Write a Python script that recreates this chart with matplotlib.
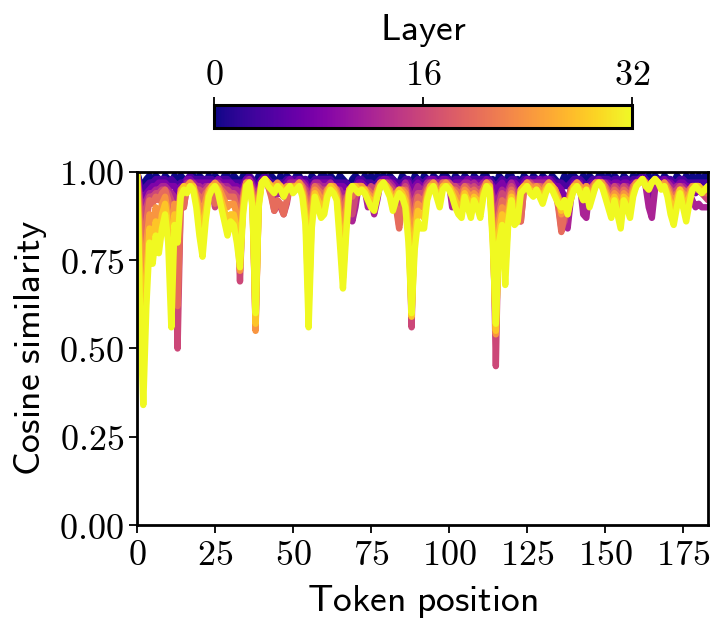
import matplotlib
matplotlib.use("Agg")
import matplotlib.pyplot as plt
import numpy as np
from matplotlib.ticker import FuncFormatter

plt.rcParams['mathtext.fontset'] = 'cm'

# cosine similarity per token position (x 100), some layers
layers = [0, 4, 8, 12, 16, 20, 24, 28, 32]
raw = {
    0: """100 97 96 98 99 97 99 98 97 99 98 97 99 97 99 98 97 99 99 97
          99 98 97 99 97 99 98 97 99 99 97 99 98 97 99 99 98 97 97 99
          99 98 97 99 98 97 99 97 99 98 97 99 99 97 98 97 99 98 97 99
          99 97 99 98 97 99 98 97 96 98 99 98 97 99 97 99 97 99 98 99
          97 99 98 97 97 99 98 97 96 99 98 97 99 98 97 99 98 97 99 99
          98 97 99 98 97 99 98 97 99 98 97 99 99 97 98 96 99 98 97 99
          99 97 98 97 99 98 97 99 98 97 99 98 97 99 98 97 97 99 97 99
          99 98 97 99 97 99 98 97 99 99 97 99 97 99 98 97 99 98 97 99
          98 99 99 97 99 97 99 98 97 99 98 97 97 99 98 97 99 97 99 97
          99 97 99 98""",
    4: """100 96 95 96 97 97 98 98 98 98 97 98 97 96 97 97 98 99 98 98
          98 98 98 98 98 97 98 98 98 98 97 97 97 97 97 98 99 98 96 97
          98 99 98 97 97 97 97 97 98 98 98 98 98 98 98 97 97 98 98 98
          98 98 98 97 97 97 97 97 96 96 96 98 98 97 97 97 96 97 98 98
          98 98 98 97 97 97 98 98 96 97 98 97 97 98 98 98 98 98 98 98
          98 97 98 98 98 98 98 98 98 98 98 98 98 98 97 95 97 98 97 97
          98 98 97 97 98 98 98 98 98 98 98 98 98 98 97 97 97 96 96 97
          98 98 98 97 96 97 98 98 98 98 98 98 97 98 98 97 98 98 97 98
          98 98 99 98 97 96 97 98 98 98 98 98 97 97 98 98 97 97 97 97
          97 97 97 97""",
    8: """100 93 92 94 95 96 96 97 97 97 96 96 96 94 96 95 98 98 97 97
          97 97 97 97 97 96 98 97 97 97 97 96 96 95 96 98 98 97 93 96
          98 98 97 96 96 96 96 96 97 98 97 97 98 97 97 95 96 97 97 97
          97 97 97 96 96 96 96 95 93 92 94 97 97 96 94 95 93 95 97 98
          98 97 97 96 95 96 97 97 92 96 97 96 96 97 98 98 97 97 98 98
          97 94 97 97 97 97 98 97 97 97 97 97 98 97 96 90 96 97 95 96
          97 97 96 95 97 98 97 97 97 98 97 98 98 97 96 96 95 93 92 95
          97 97 97 94 93 96 97 97 98 97 97 97 96 97 97 96 97 97 96 97
          97 98 98 97 94 92 96 97 97 98 97 97 96 96 97 97 96 96 95 94
          95 94 94 94""",
    12: """100 92 90 92 94 94 95 95 96 96 95 94 93 88 94 92 97 97 97 96
          96 95 96 96 96 94 97 96 96 96 95 95 95 90 95 97 98 96 85 95
          97 98 97 95 93 94 94 93 95 97 97 97 97 97 96 90 95 97 97 96
          96 96 97 95 95 95 93 94 89 86 90 96 96 95 90 92 88 92 97 97
          97 97 96 94 91 94 97 95 80 94 96 95 95 97 97 97 97 97 97 97
          97 90 96 96 96 97 97 96 97 96 96 97 97 97 93 75 93 95 90 95
          97 95 94 92 96 97 97 97 97 97 97 97 97 96 95 93 90 86 84 92
          96 97 96 88 87 95 96 97 97 97 97 96 95 96 96 95 96 96 95 96
          97 97 98 96 90 87 95 97 96 97 97 96 95 96 96 96 95 94 92 90
          91 90 90 90""",
    16: """100 90 85 90 93 93 94 94 95 95 94 92 88 50 92 90 96 97 96 95
          95 94 95 96 95 90 96 96 95 95 94 94 93 69 94 97 97 95 70 94
          97 98 96 94 89 91 90 88 91 96 96 96 97 96 95 82 94 96 96 95
          95 95 96 94 95 93 88 93 91 88 93 96 96 95 93 96 95 96 97 97
          97 96 95 92 85 92 96 93 56 92 94 94 94 96 97 97 96 96 97 97
          97 96 96 95 95 96 96 95 96 95 95 96 97 97 90 45 91 94 85 94
          96 94 92 86 95 97 97 96 96 96 96 96 97 96 95 91 84 86 91 95
          96 97 96 93 96 95 96 97 97 97 96 95 94 96 95 94 96 95 94 96
          97 97 98 97 95 97 98 97 96 97 96 95 94 95 96 95 94 95 96 95
          95 94 93 92""",
    20: """100 85 75 86 92 91 93 92 94 95 92 88 80 62 90 90 96 97 96 94
          93 92 94 95 95 91 96 95 94 93 93 93 90 78 93 97 97 94 56 93
          97 98 96 93 89 92 91 88 92 96 96 96 97 96 93 72 92 96 95 94
          94 95 96 96 95 91 80 92 94 93 95 96 96 95 95 94 93 95 97 97
          96 95 93 90 84 90 95 91 62 89 93 92 92 95 96 97 96 95 97 97
          96 95 95 94 94 96 95 94 95 94 94 95 97 96 86 56 88 92 80 92
          95 92 90 86 95 97 96 96 96 96 95 96 97 96 95 90 83 88 90 95
          96 97 96 95 96 94 96 97 97 97 96 94 93 95 94 93 95 94 93 96
          97 97 98 97 96 97 98 97 96 97 96 94 93 94 95 95 93 95 96 96
          96 95 94 94""",
    24: """100 78 60 80 88 85 90 86 91 93 88 78 91 86 95 96 96 97 96 93
          90 88 92 95 96 97 96 94 92 90 91 91 88 72 92 97 97 93 55 92
          97 98 97 96 96 97 96 95 96 96 96 96 97 95 91 68 90 95 94 92
          92 95 96 96 94 88 76 89 95 96 96 96 96 95 94 93 92 95 97 97
          96 95 92 94 95 95 94 88 60 86 91 90 90 94 96 97 95 94 96 97
          96 95 94 92 92 95 94 92 94 93 92 95 97 96 84 54 86 90 76 90
          94 90 90 95 96 97 96 95 96 95 94 96 97 96 95 93 88 91 88 94
          96 97 96 94 96 93 95 97 97 97 95 93 92 94 93 91 94 93 92 95
          97 97 98 97 96 97 98 97 96 97 95 93 92 93 95 94 91 94 96 96
          96 95 95 95""",
    28: """100 70 45 70 84 79 86 81 88 91 85 65 88 84 94 96 95 96 96 92
          86 82 89 94 96 96 95 92 89 86 88 88 84 76 90 96 97 91 57 91
          97 98 97 96 95 96 96 94 95 96 95 96 96 94 88 62 87 94 92 90
          90 94 96 95 93 84 70 85 95 96 96 95 95 95 93 92 91 94 96 97
          96 94 91 93 95 94 92 84 59 82 89 88 87 93 96 96 94 92 96 96
          96 94 92 90 90 94 92 90 93 92 90 94 96 96 82 55 83 88 72 88
          93 88 88 95 96 96 95 94 95 94 93 95 96 96 94 92 89 92 89 93
          96 96 95 93 95 92 94 96 97 96 94 92 90 93 91 88 93 92 90 94
          96 97 98 96 96 97 98 97 96 96 94 91 89 92 95 92 89 93 95 96
          96 95 95 96""",
    32: """100 60 34 62 80 74 82 77 84 88 80 56 85 80 93 95 94 96 95 90
          82 76 86 93 95 96 94 90 86 82 86 85 80 73 88 96 97 90 60 90
          97 98 96 95 94 96 95 93 95 96 94 95 96 93 85 56 84 93 90 87
          88 93 95 94 92 80 67 82 94 96 95 94 95 94 92 90 89 93 96 97
          95 93 89 92 94 93 90 80 60 78 86 84 84 92 95 96 93 90 95 96
          95 93 90 88 87 93 90 87 92 90 87 93 96 95 80 57 80 85 68 86
          92 85 86 94 95 96 94 93 95 93 91 94 96 95 93 91 90 92 88 92
          95 96 94 92 95 90 93 96 97 96 93 90 87 92 88 84 92 90 87 93
          96 97 98 96 95 97 98 97 95 96 93 88 85 90 94 90 86 91 95 96
          95 94 95 96""",
}
similarity = {k: np.array(raw[k].split(), dtype=float) / 100 for k in layers}
n_tokens = len(similarity[32])
positions = np.arange(n_tokens)
n_layers = 32

fig = plt.figure(figsize=(7.23, 6.33), dpi=100)
ax = fig.add_axes([0.1895, 0.1706, 0.7898, 0.5577])
cmap = plt.get_cmap('plasma')
norm = plt.Normalize(0, n_layers)

for k in layers:
    ax.plot(positions, similarity[k], color=cmap(norm(k)), lw=4.6,
            solid_capstyle='round', solid_joinstyle='round')

ax.set_xlim(0, n_tokens - 1)
ax.set_ylim(0, 1)
ax.set_xticks(np.arange(0, 176, 25))
ax.set_yticks([0, 0.25, 0.5, 0.75, 1.0])
ax.xaxis.set_major_formatter(FuncFormatter(lambda v, p: '$%d$' % v))
ax.yaxis.set_major_formatter(FuncFormatter(lambda v, p: '$%.2f$' % v))
ax.tick_params(labelsize=26, width=1.3, length=6)
for s in ax.spines.values():
    s.set_linewidth(2)
ax.set_xlabel(r'$\mathsf{Token\ position}$', fontsize=27, labelpad=8)
ax.set_ylabel(r'$\mathsf{Cosine\ similarity}$', fontsize=27, labelpad=7)

# colorbar for layers
cax = fig.add_axes([0.296, 0.798, 0.578, 0.0363])
sm = plt.cm.ScalarMappable(cmap=cmap, norm=norm)
cb = fig.colorbar(sm, cax=cax, orientation='horizontal', ticks=[0, 16, 32])
cb.ax.xaxis.set_ticks_position('top')
cb.ax.xaxis.set_label_position('top')
cb.ax.set_xticklabels(['$0$', '$16$', '$32$'])
cb.ax.tick_params(labelsize=26, width=1.3, length=6)
cb.outline.set_linewidth(2.2)
cb.set_label(r'$\mathsf{Layer}$', fontsize=27, labelpad=13)

fig.savefig('out.png', dpi=100)
